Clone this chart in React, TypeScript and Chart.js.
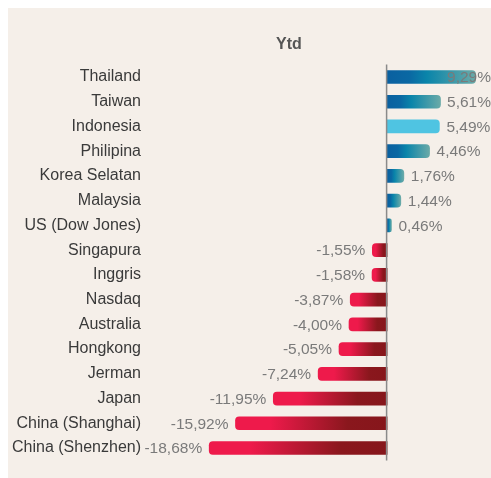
import React, { useEffect, useRef } from "react";
import { Chart, registerables } from "chart.js";

Chart.register(...registerables);

const categories = [
  "Thailand",
  "Taiwan",
  "Indonesia",
  "Philipina",
  "Korea Selatan",
  "Malaysia",
  "US (Dow Jones)",
  "Singapura",
  "Inggris",
  "Nasdaq",
  "Australia",
  "Hongkong",
  "Jerman",
  "Japan",
  "China (Shanghai)",
  "China (Shenzhen)",
];

const ytdValues = [
  9.29, 5.61, 5.49, 4.46, 1.76, 1.44, 0.46, -1.55, -1.58, -3.87, -4.0, -5.05,
  -7.24, -11.95, -15.92, -18.68,
];

const highlighted = ["Indonesia"];
const chartTitle = "Ytd";

const FONT = "'Liberation Sans', Arial, sans-serif";

const fmt = (v: number) => v.toFixed(2).replace(".", ",") + "%";

export default function App() {
  const canvasRef = useRef<HTMLCanvasElement | null>(null);

  useEffect(() => {
    const canvas = canvasRef.current;
    if (!canvas) return;

    const titlePlugin = {
      id: "ytdTitle",
      afterDraw(chart: any) {
        const c = chart.ctx;
        c.save();
        c.font = `bold 16px ${FONT}`;
        c.fillStyle = "#555555";
        c.textAlign = "center";
        c.textBaseline = "middle";
        c.fillText(chartTitle, 281, 37);
        c.restore();
      },
    };

    const zeroLinePlugin = {
      id: "zeroLine",
      afterDatasetsDraw(chart: any) {
        const c = chart.ctx;
        const x0 = chart.scales.x.getPixelForValue(0);
        const { top, bottom } = chart.chartArea;
        c.save();
        c.strokeStyle = "#8a8a8a";
        c.lineWidth = 1.5;
        c.beginPath();
        c.moveTo(x0 - 0.5, top);
        c.lineTo(x0 - 0.5, bottom);
        c.stroke();
        c.restore();
      },
    };

    const valueLabelPlugin = {
      id: "valueLabels",
      afterDatasetsDraw(chart: any) {
        const c = chart.ctx;
        const meta = chart.getDatasetMeta(0);
        c.save();
        c.font = `15.5px ${FONT}`;
        c.fillStyle = "#7a7a7a";
        c.textBaseline = "middle";
        meta.data.forEach((el: any, i: number) => {
          const v = ytdValues[i];
          const text = fmt(v);
          const w = c.measureText(text).width;
          if (v >= 0) {
            let x = el.x + 7;
            if (x + w > chart.width) x = chart.width - w;
            c.textAlign = "left";
            c.fillText(text, x, el.y + 1);
          } else {
            c.textAlign = "right";
            c.fillText(text, el.x - 7, el.y + 1);
          }
        });
        c.restore();
      },
    };

    const chart = new Chart(canvas, {
      type: "bar",
      data: {
        labels: categories,
        datasets: [
          {
            data: ytdValues,
            barThickness: 13,
            borderRadius: 4,
            borderSkipped: "start",
            backgroundColor: (ctx: any) => {
              if (ctx.type !== "data") return "#0068a5";
              const ch = ctx.chart;
              const i = ctx.dataIndex;
              const v = ytdValues[i];
              if (highlighted.includes(categories[i])) return "#4fc4e2";
              if (!ch.chartArea || !ch.scales.x) return v >= 0 ? "#0068a5" : "#ee1a4b";
              const x0 = ch.scales.x.getPixelForValue(0);
              const x1 = ch.scales.x.getPixelForValue(v);
              const g = ch.ctx.createLinearGradient(x0, 0, x1, 0);
              if (v >= 0) {
                g.addColorStop(0, "#0a60a0");
                g.addColorStop(0.25, "#0a68a3");
                g.addColorStop(0.45, "#0a85aa");
                g.addColorStop(1, "#6aaaa8");
              } else {
                g.addColorStop(0, "#86161b");
                g.addColorStop(0.26, "#8a171d");
                g.addColorStop(0.77, "#ee1a4b");
                g.addColorStop(1, "#ee1a4b");
              }
              return g;
            },
          },
        ],
      },
      options: {
        indexAxis: "y",
        animation: false,
        responsive: false,
        devicePixelRatio: 1,
        layout: { padding: { top: 56.6, bottom: 15.5, left: 0, right: 0 } },
        plugins: {
          legend: { display: false },
          tooltip: { enabled: false },
          title: { display: false },
        },
        scales: {
          x: {
            display: false,
            min: -25,
            max: 10.91,
          },
          y: {
            grid: { display: false, drawTicks: false },
            border: { display: false },
            ticks: {
              padding: 8,
              color: "#3a3a3a",
              font: { family: FONT, size: 16 },
            },
            afterFit: (axis: any) => {
              axis.width = 141;
            },
          },
        },
      } as any,
      plugins: [titlePlugin, zeroLinePlugin, valueLabelPlugin],
    });

    return () => chart.destroy();
  }, []);

  return (
    <div
      style={{
        position: "absolute",
        left: 8,
        top: 8,
        width: 483,
        height: 470,
        background: "#f5efe9",
      }}
    >
      <canvas ref={canvasRef} width={483} height={470} style={{ display: "block" }} />
    </div>
  );
}
